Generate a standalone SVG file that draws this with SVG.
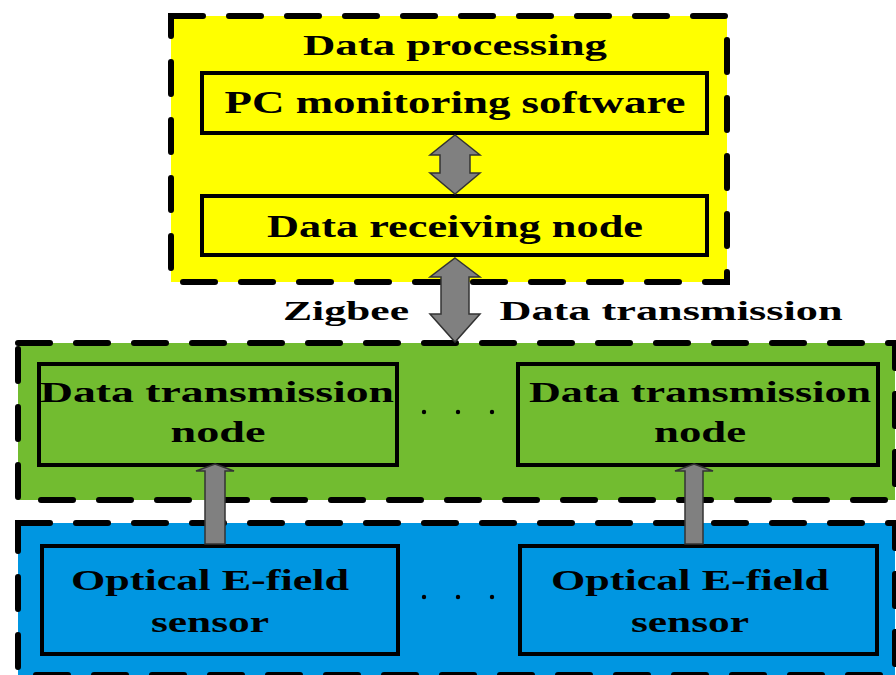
<svg xmlns="http://www.w3.org/2000/svg" width="896" height="675" viewBox="0 0 896 675">
<style>
.grp{stroke:#000;stroke-width:6;stroke-dasharray:32 26;stroke-linecap:round}
.box{stroke:#000;stroke-width:4}
text{font-family:"Liberation Serif","Times New Roman",serif;font-weight:bold;fill:#000}
.arr{fill:#808080;stroke:#333;stroke-width:1.5;stroke-linejoin:miter}
.dot{fill:#000}
</style>
<rect width="896" height="675" fill="#fff"/>
<g id="processing">
<rect class="grp" x="171" y="16" width="556" height="266" fill="#FFFF00"/>
<text x="455" y="55" font-size="30" text-anchor="middle" textLength="304" lengthAdjust="spacingAndGlyphs">Data processing</text>
</g>
<g id="pc">
<rect class="box" x="202" y="73" width="505" height="60" fill="#FFFF00"/>
<text x="455" y="113" font-size="31" text-anchor="middle" textLength="461" lengthAdjust="spacingAndGlyphs">PC monitoring software</text>
</g>
<g id="receiving">
<rect class="box" x="202" y="196" width="505" height="59" fill="#FFFF00"/>
<text x="455" y="237" font-size="31" text-anchor="middle" textLength="376" lengthAdjust="spacingAndGlyphs">Data receiving node</text>
</g>
<g id="transmission-layer">
<rect class="grp" x="18" y="343" width="877" height="157" fill="#72BC30"/>
<circle class="dot" cx="424" cy="412" r="2.2"/>
<circle class="dot" cx="458" cy="412" r="2.2"/>
<circle class="dot" cx="492" cy="412" r="2.2"/>
</g>
<g id="tnode1">
<rect class="box" x="39" y="364" width="358" height="101" fill="#72BC30"/>
<text x="217" y="402" font-size="29" text-anchor="middle" textLength="354" lengthAdjust="spacingAndGlyphs">Data transmission</text>
<text x="218" y="442" font-size="29" text-anchor="middle" textLength="95" lengthAdjust="spacingAndGlyphs">node</text>
</g>
<g id="tnode2">
<rect class="box" x="518" y="364" width="360" height="101" fill="#72BC30"/>
<text x="700" y="402" font-size="29" text-anchor="middle" textLength="342" lengthAdjust="spacingAndGlyphs">Data transmission</text>
<text x="700" y="442" font-size="29" text-anchor="middle" textLength="92" lengthAdjust="spacingAndGlyphs">node</text>
</g>
<g id="sensor-layer">
<rect class="grp" x="18" y="523" width="877" height="152" fill="#0096E1"/>
<circle class="dot" cx="424" cy="597" r="2.2"/>
<circle class="dot" cx="458" cy="597" r="2.2"/>
<circle class="dot" cx="492" cy="597" r="2.2"/>
</g>
<g id="sensor1">
<rect class="box" x="42" y="546" width="356" height="108" fill="#0096E1"/>
<text x="210" y="590" font-size="30" text-anchor="middle" textLength="278" lengthAdjust="spacingAndGlyphs">Optical E-field</text>
<text x="210" y="632" font-size="30" text-anchor="middle" textLength="118" lengthAdjust="spacingAndGlyphs">sensor</text>
</g>
<g id="sensor2">
<rect class="box" x="520" y="546" width="357" height="108" fill="#0096E1"/>
<text x="690" y="590" font-size="30" text-anchor="middle" textLength="278" lengthAdjust="spacingAndGlyphs">Optical E-field</text>
<text x="690" y="632" font-size="30" text-anchor="middle" textLength="118" lengthAdjust="spacingAndGlyphs">sensor</text>
</g>
<g id="connectors">
<polygon class="arr" points="455,135 480,155 470,155 470,173 480,173 455,194 430,173 440,173 440,155 430,155"/>
<polygon class="arr" points="455,258 480,277 469,277 469,314 480,314 455,342 430,314 441,314 441,277 430,277"/>
<polygon class="arr" points="215,464 234,471 225,471 225,544 205,544 205,471 196,471"/>
<polygon class="arr" points="694,464 713,471 703,471 703,544 685,544 685,471 675,471"/>
<text x="346" y="320" font-size="28" text-anchor="middle" textLength="126" lengthAdjust="spacingAndGlyphs">Zigbee</text>
<text x="671" y="320" font-size="28" text-anchor="middle" textLength="343" lengthAdjust="spacingAndGlyphs">Data transmission</text>
</g>
</svg>
